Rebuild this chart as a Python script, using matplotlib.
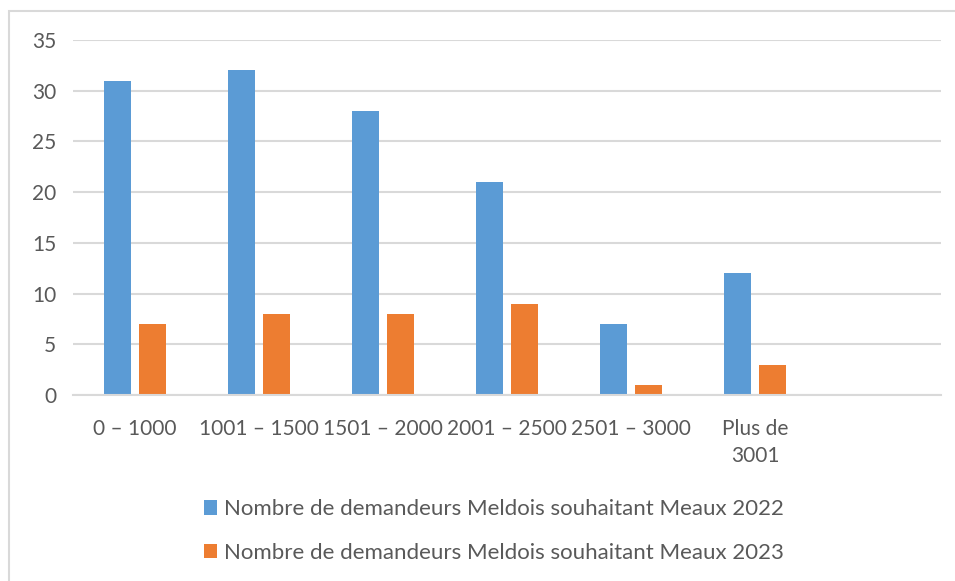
import matplotlib
matplotlib.use("Agg")
import matplotlib.pyplot as plt
from matplotlib.patches import Rectangle, Patch
import numpy as np

categories = ["0 – 1000", "1001 – 1500", "1501 – 2000", "2001 – 2500", "2501 – 3000", "Plus de\n3001", ""]
series_2022 = [31, 32, 28, 21, 7, 12, None]
series_2023 = [7, 8, 8, 9, 1, 3, None]
labels = ["Nombre de demandeurs Meldois souhaitant Meaux 2022",
          "Nombre de demandeurs Meldois souhaitant Meaux 2023"]
yticks = [0, 5, 10, 15, 20, 25, 30, 35]

blue = "#5B9BD5"
orange = "#ED7D31"
grid = "#D9D9D9"
txt = "#595959"
plt.rcParams['font.family'] = ['Lato', 'DejaVu Sans']

W, H = 955, 581
fig = plt.figure(figsize=(W/100, H/100), dpi=100)
fig.patch.set_facecolor("white")

# outer chart frame
fig.add_artist(Rectangle((9/W, -0.1), 1.2, 1 - 11/H + 0.1, transform=fig.transFigure,
                         fill=False, edgecolor=grid, linewidth=1.5))

ax = fig.add_axes([73/W, 1 - 395/H, (941-73)/W, (395-40)/H])
x = np.arange(len(categories))
w = 0.22
off = 0.143
v1 = [np.nan if v is None else v for v in series_2022]
v2 = [np.nan if v is None else v for v in series_2023]
ax.bar(x - off, v1, w, color=blue, zorder=3)
ax.bar(x + off, v2, w, color=orange, zorder=3)

ax.set_xlim(-0.5, len(categories) - 0.5)
ax.set_ylim(0, 35)
ax.set_yticks(yticks)
ax.set_xticks(x)
ax.set_xticklabels(categories, fontsize=15, color=txt, linespacing=1.45)
ax.tick_params(axis='y', labelsize=15, labelcolor=txt, length=0, pad=12)
ax.tick_params(axis='x', length=0, pad=17)
ax.yaxis.grid(True, color=grid, linewidth=1.5, zorder=0)
for s in ["top", "right", "left"]:
    ax.spines[s].set_visible(False)
ax.spines["bottom"].set_color(grid)
ax.spines["bottom"].set_linewidth(1.5)
ax.spines["bottom"].set_zorder(4)

handles = [Patch(facecolor=blue, edgecolor='none'), Patch(facecolor=orange, edgecolor='none')]
fig.legend(handles, labels, loc='center', bbox_to_anchor=(494/W, 1 - 531/H),
           ncol=1, frameon=False, fontsize=16, labelcolor=txt,
           handlelength=0.6, handleheight=0.6, handletextpad=0.3, labelspacing=1.05)

fig.savefig("out.png", dpi=100, facecolor="white")
